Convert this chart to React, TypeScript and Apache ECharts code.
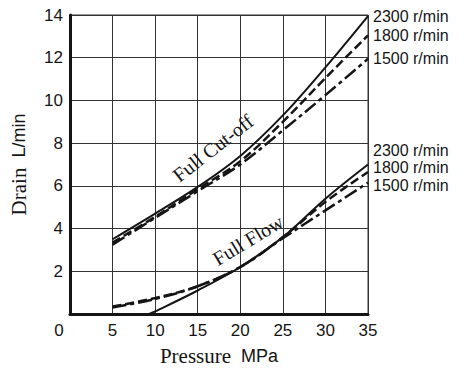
import React, { useEffect, useRef } from 'react';
import * as echarts from 'echarts';

const pressure = [5, 10, 15, 20, 25, 30, 35];
const cutOff2300 = [3.5, 4.7, 5.95, 7.4, 9.3, 11.55, 13.95];
const cutOff1800 = [3.35, 4.55, 5.85, 7.15, 9.0, 11.05, 13.05];
const cutOff1500 = [3.25, 4.5, 5.75, 7.0, 8.6, 10.25, 11.95];
const pressureFlow2300 = [9.3, 10, 15, 20, 25, 30, 35];
const flow2300 = [0, 0.12, 1.1, 2.2, 3.6, 5.4, 7.0];
const flow1800 = [0.35, 0.75, 1.3, 2.2, 3.6, 5.25, 6.65];
const flow1500 = [0.3, 0.7, 1.3, 2.2, 3.55, 4.85, 6.15];
const speedLabels = ['2300 r/min', '1800 r/min', '1500 r/min'];
const curveTitles = ['Full Cut-off', 'Full Flow'];

const pairs = (xs: number[], ys: number[]) => xs.map((x, i) => [x, ys[i]]);

const SANS = '"Liberation Sans", Arial, Helvetica, sans-serif';
const SERIF = '"Liberation Serif", "Times New Roman", serif';
const INK = '#151515';

export default function App() {
  const ref = useRef<HTMLDivElement>(null);
  useEffect(() => {
    if (!ref.current) return;
    const chart = echarts.init(ref.current, null, { renderer: 'svg' });
    const mk = (
      data: number[][],
      dash: any,
      label: string,
      offset: number,
      width: number
    ) => ({
      type: 'line',
      data,
      smooth: 0.35,
      symbol: 'none',
      lineStyle: { color: INK, width, type: dash },
      endLabel: {
        show: true,
        formatter: label,
        color: INK,
        fontSize: 16,
        fontFamily: SANS,
        distance: 5,
        offset: [0, offset],
      },
    });
    chart.setOption({
      animation: false,
      grid: {
        left: 70,
        right: 97,
        top: 15,
        bottom: 53,
        show: true,
        borderColor: '#333',
        borderWidth: 1,
      },
      xAxis: {
        type: 'value',
        min: 0,
        max: 35,
        interval: 5,
        name: '{a|Pressure}   {b|MPa}',
        nameLocation: 'middle',
        nameGap: 31,
        nameTextStyle: {
          rich: {
            a: { fontFamily: SERIF, fontSize: 21, color: INK },
            b: { fontFamily: SANS, fontSize: 18, color: INK },
          },
        },
        axisLine: { show: true, lineStyle: { color: INK, width: 3 } },
        axisTick: { show: false },
        splitLine: { show: true, lineStyle: { color: '#333', width: 1 } },
        axisLabel: {
          color: INK,
          fontSize: 17,
          fontFamily: SANS,
          margin: 8,
          formatter: (v: number) => (v === 0 ? '{z|0}' : String(v)),
          rich: { z: { fontSize: 17, fontFamily: SANS, color: INK, padding: [0, 22, 0, 0] } },
        },
      },
      yAxis: {
        type: 'value',
        min: 0,
        max: 14,
        interval: 2,
        name: '{a|Drain}   {b|L/min}',
        nameLocation: 'middle',
        nameRotate: 90,
        nameGap: 41,
        nameTextStyle: {
          rich: {
            a: { fontFamily: SERIF, fontSize: 21, color: INK },
            b: { fontFamily: SANS, fontSize: 18, color: INK },
          },
        },
        axisLine: { show: true, lineStyle: { color: INK, width: 3 } },
        axisTick: { show: false },
        splitLine: { show: true, lineStyle: { color: '#333', width: 1 } },
        axisLabel: {
          color: INK,
          fontSize: 17,
          fontFamily: SANS,
          margin: 7,
          formatter: (v: number) => (v === 0 ? '' : String(v)),
        },
      },
      graphic: [
        {
          type: 'text',
          x: 213,
          y: 148,
          rotation: (38 * Math.PI) / 180,
          style: {
            text: curveTitles[0],
            fontFamily: SERIF,
            fontSize: 20,
            fill: INK,
            align: 'center',
            verticalAlign: 'middle',
          },
          z: 10,
        },
        {
          type: 'text',
          x: 248,
          y: 240,
          rotation: (31 * Math.PI) / 180,
          style: {
            text: curveTitles[1],
            fontFamily: SERIF,
            fontSize: 20,
            fill: INK,
            align: 'center',
            verticalAlign: 'middle',
          },
          z: 10,
        },
      ],
      series: [
        mk(pairs(pressure, cutOff2300), 'solid', speedLabels[0], 0, 2),
        mk(pairs(pressure, cutOff1800), [9, 4], speedLabels[1], 0, 2.5),
        mk(pairs(pressure, cutOff1500), [14, 4, 4, 4], speedLabels[2], 0, 2.5),
        mk(pairs(pressureFlow2300, flow2300), 'solid', speedLabels[0], -14, 2),
        mk(pairs(pressure, flow1800), [9, 4], speedLabels[1], -4, 2.5),
        mk(pairs(pressure, flow1500), [14, 4, 4, 4], speedLabels[2], 3, 2.5),
      ],
    });
    return () => chart.dispose();
  }, []);
  return (
    <div
      ref={ref}
      style={{ position: 'fixed', left: 0, top: 0, width: 465, height: 371, background: '#fff' }}
    />
  );
}
